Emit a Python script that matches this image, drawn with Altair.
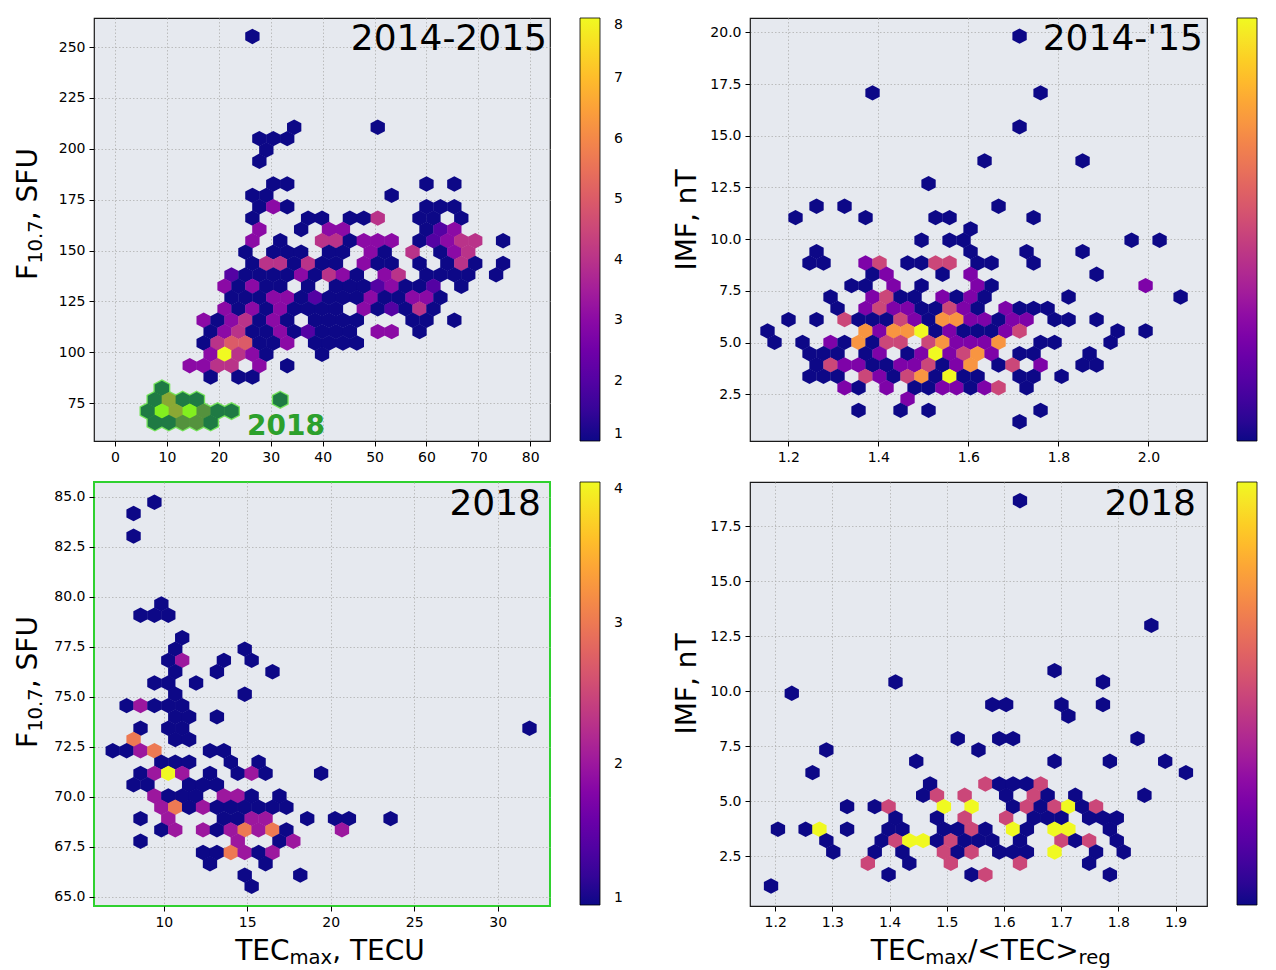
import altair as alt
import pandas as pd

FONT = "DejaVu Sans"

# ---------------- hexbin counts ----------------
# row index j -> "i:count ..." (i = column index of the hexbin lattice, halves on odd rows)
P1_ROWS = {
    28: "2:1",
    20: "5:1 11:1",
    19: "2.5:1 3.5:1 4.5:1",
    18: "3:1",
    17: "2.5:1",
    15: "3.5:1 4.5:1 14.5:1 16.5:1",
    14: "2:1 3:1 12:1",
    13: "2.5:1 3.5:3 4.5:1 14.5:1 15.5:1 16.5:1",
    12: "2:1 6:1 7:1 9:1 10:1 11:4 14:1 15:1 17:1",
    11: "2.5:3 5.5:1 7.5:3 8.5:3 14.5:1 15.5:2 16.5:3",
    10: "2:3 4:1 7:4 8:4 9:1 10:3 11:3 12:3 14:1 15:2 16:3 17:4 18:4 20:1",
    9: "1.5:1 3.5:1 4.5:1 5.5:1 7.5:1 8.5:1 10.5:3 11.5:1 13.5:4 15.5:1 16.5:3 17.5:4",
    8: "2:1 3:4 4:4 5:1 6:4 7:1 8:1 10:3 11:1 12:1 14:1 16:1 17:4 18:1 20:1",
    7: "0.5:2 1.5:1 2.5:1 3.5:1 4.5:1 5.5:3 6.5:1 7.5:4 8.5:3 9.5:1 11.5:3 12.5:4 14.5:1 15.5:1 16.5:1 17.5:1 19.5:1",
    6: "0:3 1:1 2:3 3:1 4:1 6:1 8:1 9:1 10:1 11:2 12:3 13:1 14:1 15:2 17:1",
    5: "0.5:1 1.5:1 2.5:1 3.5:3 4.5:3 5.5:1 6.5:2 7.5:1 8.5:1 9.5:1 10.5:3 11.5:1 12.5:1 13.5:3 14.5:3 15.5:1",
    4: "0:3 1:1 2:3 3:1 4:3 5:1 6:1 7:1 8:1 10:3 11:1 12:2 13:1 14:4 15:1",
    3: "-1.5:3 -0.5:1 0.5:3 1.5:4 2.5:1 3.5:3 4.5:1 6.5:1 7.5:1 8.5:1 9.5:1 13.5:1 14.5:1 16.5:1",
    2: "-1:1 0:3 1:4 2:1 3:1 4:3 5:1 6:2 7:1 8:1 9:1 11:3 12:3 14:1",
    1: "-1.5:1 -0.5:4 0.5:5 1.5:5 2.5:1 3.5:1 4.5:3 6.5:1 7.5:1 8.5:1 9.5:1",
    0: "-1:3 0:8 1:4 2:3 3:1 7:1",
    -1: "-2.5:3 -1.5:3 -0.5:4 0.5:4 2.5:3 4.5:1",
    -2: "-1:1 1:1 2:1",
}
P1_2018_ROWS = {
    -3: "-4.5:1",
    -4: "-5:1 -4:3 -3:1 -2:1 4:1",
    -5: "-5.5:1 -4.5:6 -3.5:3 -2.5:6 -1.5:2 -0.5:1 0.5:1",
    -6: "-5:1 -4:1 -3:2 -2:2 -1:1",
}
P2_ROWS = {
    26: "7:1",
    21: "-3.5:1 8.5:1",
    18: "7:1",
    15: "4.5:1 11.5:1",
    13: "0.5:1",
    11: "-7.5:1 -5.5:1 5.5:1",
    10: "-9:1 -4:1 1:1 2:1 8:1",
    9: "3.5:1",
    8: "0:1 2:1 3:1 15:1 17:1",
    7: "-7.5:1 3.5:1 7.5:1 11.5:1",
    6: "-8:1 -7:1 -4:2 -3:3 -1:1 0:1 1:3 2:3 4:1 5:1 8:1",
    5: "-3.5:1 -2.5:2 1.5:1 3.5:2 12.5:1",
    4: "-5:1 -4:1 -2:2 0:1 4:2 5:1 16:2",
    3: "-6.5:1 -3.5:2 -2.5:3 -1.5:1 -0.5:1 1.5:2 2.5:1 3.5:2 4.5:1 10.5:1 18.5:1",
    2: "-6:1 -4:2 -3:3 -2:2 -1:2 0:1 1:1 2:3 3:2 4:1 6:2 7:1 8:1 9:1",
    1: "-9.5:1 -7.5:1 -5.5:3 -4.5:1 -3.5:1 -2.5:1 -1.5:3 -0.5:2 0.5:1 1.5:4 2.5:4 3.5:2 4.5:2 5.5:1 6.5:2 7.5:2 9.5:1 10.5:1 12.5:1",
    0: "-11:1 -4:4 -3:2 -2:4 -1:4 0:5 1:1 2:2 3:1 4:1 5:1 6:2 7:3 14:1 16:1",
    -1: "-10.5:1 -8.5:1 -6.5:2 -5.5:1 -4.5:4 -3.5:1 -2.5:3 -1.5:3 0.5:3 1.5:4 2.5:2 3.5:2 4.5:2 5.5:4 8.5:1 9.5:1 13.5:1",
    -2: "-8:1 -7:1 -6:1 -4:1 -3:2 -1:1 0:2 1:5 2:2 3:3 4:4 5:2 7:1 8:1 12:1",
    -3: "-7.5:1 -6.5:3 -5.5:2 -4.5:2 -3.5:1 -2.5:1 -1.5:2 -0.5:2 0.5:3 1.5:1 2.5:2 3.5:4 5.5:1 6.5:3 8.5:2 11.5:1 12.5:1",
    -4: "-8:1 -7:1 -6:1 -4:3 -3:2 -2:1 -1:3 0:4 1:1 2:5 3:1 4:1 7:1 8:1 10:1",
    -5: "-5.5:2 -4.5:1 -2.5:2 -0.5:1 0.5:1 1.5:2 2.5:2 3.5:1 4.5:2 5.5:3 7.5:1",
    -6: "-1:2",
    -7: "-4.5:1 -1.5:1 0.5:1 8.5:1",
    -8: "7:1",
}
P3_ROWS = {
    24: "-1:1",
    23: "-2.5:1",
    21: "-2.5:1",
    15: "-0.5:1",
    14: "-2:1 -1:1 0:1",
    12: "1:1",
    11: "0.5:1 5.5:1",
    10: "0:1 1:2 4:1 6:1",
    9: "0.5:1 3.5:1 7.5:1",
    8: "-1:1 0:1 2:1",
    7: "0.5:1 5.5:1",
    6: "-3:1 -2:2 -1:1 0:1 1:1",
    5: "0.5:1 1.5:1 3.5:1",
    4: "-2:1 0:1 1:1 26:1",
    3: "-2.5:3 0.5:1 1.5:1",
    2: "-4:1 -3:1 -2:2 -1:3 3:1 4:1",
    1: "-0.5:1 0.5:1 1.5:1 4.5:1 6.5:1",
    0: "-2:1 -1:2 0:4 1:2 3:1 5:1 6:2 7:1 11:1",
    -1: "-2.5:1 -1.5:1 1.5:1 2.5:1 3.5:1",
    -2: "-1:2 0:1 1:1 2:1 4:2 5:2 6:1 8:1",
    -3: "-0.5:2 0.5:3 1.5:1 2.5:2 3.5:1 4.5:1 5.5:1 6.5:1 7.5:1 8.5:1",
    -4: "-2:1 0:2 4:1 5:1 6:2 7:2 10:1 12:1 13:1 16:1",
    -5: "-0.5:1 0.5:2 2.5:2 3.5:1 4.5:2 5.5:3 6.5:2 7.5:3 8.5:1 12.5:2",
    -6: "-2:1 5:2 8:1 9:2",
    -7: "2.5:1 3.5:1 4.5:3 5.5:2 6.5:1 7.5:2",
    -8: "3:1 7:1",
    -9: "5.5:1 9.5:1",
    -10: "6:1",
}
P4_ROWS = {
    29: "14.5:1",
    18: "24:1",
    14: "17:1",
    13: "5.5:1 20.5:1",
    12: "-2:1",
    11: "12.5:1 13.5:1 17.5:1 20.5:1",
    10: "18:1",
    8: "10:1 13:1 14:1 23:1",
    7: "0.5:1 11.5:1",
    6: "7:1 17:1 21:1 25:1",
    5: "-0.5:1 26.5:1",
    4: "8:1 12:2 13:1 14:1 15:1 16:2",
    3: "7.5:1 8.5:2 10.5:2 13.5:1 15.5:2 16.5:1 18.5:1 23.5:1",
    2: "2:1 4:1 5:2 9:3 11:3 14:1 15:2 16:1 17:2 18:3 19:1 20:2",
    1: "5.5:1 8.5:1 10.5:2 13.5:2 15.5:1 16.5:1 17.5:1 19.5:1 20.5:1 21.5:1",
    0: "-3:1 -1:1 0:3 2:1 5:1 6:1 9:1 10:1 11:2 12:1 14:3 15:1 17:3 18:3 21:1",
    -1: "0.5:1 4.5:1 5.5:2 6.5:3 7.5:3 8.5:1 9.5:2 10.5:1 11.5:1 12.5:1 14.5:1 17.5:2 18.5:1 19.5:2 21.5:1",
    -2: "1:1 4:1 6:1 9:2 10:1 11:2 13:1 14:1 15:1 17:3 20:1 22:1",
    -3: "3.5:2 6.5:1 9.5:2 14.5:2 19.5:1",
    -4: "5:1 11:1 12:2 21:1",
    -5: "-3.5:1",
}

# hexbin lattice: (x of bin column 0, column spacing, y of bin row 0, row spacing)
P1_GRID = (21.1, 2.683, 99.0, 5.58)
P2_GRID = (1.496, 0.0311, 5.565, 0.548)
P3_GRID = (10.27, 0.832, 71.17, 0.565)
P4_GRID = (1.2774, 0.02418, 3.736, 0.515)

# axes
P1_XDOM, P1_YDOM = [-4.05, 83.8], [56.4, 264.3]
P2_XDOM, P2_YDOM = [1.115, 2.130], [0.25, 20.69]
P3_XDOM, P3_YDOM = [5.82, 33.13], [64.54, 85.74]
P4_XDOM, P4_YDOM = [1.156, 1.955], [0.25, 19.52]
P1_XT, P1_YT = [0, 10, 20, 30, 40, 50, 60, 70, 80], [75, 100, 125, 150, 175, 200, 225, 250]
P2_XT, P2_YT = [1.2, 1.4, 1.6, 1.8, 2.0], [2.5, 5.0, 7.5, 10.0, 12.5, 15.0, 17.5, 20.0]
P3_XT, P3_YT = [10, 15, 20, 25, 30], [65.0, 67.5, 70.0, 72.5, 75.0, 77.5, 80.0, 82.5, 85.0]
P4_XT, P4_YT = [1.2, 1.3, 1.4, 1.5, 1.6, 1.7, 1.8, 1.9], [2.5, 5.0, 7.5, 10.0, 12.5, 15.0, 17.5]
CMAX = {"p1": 8, "p2": 5, "p3": 4, "p4": 3}
GREEN_DOMAIN = [1, 3, 6]
GREEN_RANGE = ["#1f7a44", "#8aa834", "#82ef1f"]

W_L, W_R, H = 456, 457, 423
BG = "#e6e9ef"
HEX = "M0,-1L0.93,-0.51L0.93,0.51L0,1L-0.93,0.51L-0.93,-0.51Z"
HEX_SIZE = (2 * 7.7) ** 2

CW = {' ': 0.318, ',': 0.318, '.': 0.318, '/': 0.337, '<': 0.838, '>': 0.838, '-': 0.361,
      "'": 0.275, 'F': 0.575, 'S': 0.635, 'U': 0.732, 'T': 0.611, 'E': 0.632, 'C': 0.698,
      'I': 0.295, 'M': 0.863, 'm': 0.974, 'a': 0.613, 'x': 0.592, 'r': 0.411, 'e': 0.615,
      'g': 0.635, 'n': 0.634}


def tw(s, size):
    return sum(CW.get(ch, 0.636) for ch in s) * size


def hexdf(rows, grid):
    x0, dx, y0, dy = grid
    recs = []
    for j, s in rows.items():
        for tok in s.split():
            i, c = tok.split(":")
            recs.append({"x": x0 + float(i) * dx, "y": y0 + j * dy, "c": int(c)})
    return pd.DataFrame(recs)


def txt(text, x, y, size, align="left", angle=0, weight="normal", color="black"):
    return alt.Chart(alt.Data(values=[{"k": 0}])).mark_text(
        text=text, fontSize=size, font=FONT, align=align, baseline="alphabetic",
        angle=angle, fontWeight=weight, color=color,
    ).encode(x=alt.value(x), y=alt.value(y))


MAIN, SUB, SHIFT, XSHIFT = 28, 19.6, 5, 4


def htitle(pieces, cx, by):
    total = sum(tw(t, s) for t, s, _ in pieces)
    x = cx - total / 2
    out = []
    for t, s, sh in pieces:
        out.append(txt(t, x, by + sh, s))
        x += tw(t, s)
    return out


def vtitle(pieces, bx, cy):
    total = sum(tw(t, s) for t, s, _ in pieces)
    y = cy + total / 2
    out = []
    for t, s, sh in pieces:
        out.append(txt(t, bx + sh, y, s, angle=270))
        y -= tw(t, s)
    return out


def enc_xy(xdom, ydom, xt, yt, fx, fy):
    x = alt.X("x:Q", scale=alt.Scale(domain=xdom, nice=False, zero=False),
              axis=alt.Axis(values=xt, format=fx, title=None))
    y = alt.Y("y:Q", scale=alt.Scale(domain=ydom, nice=False, zero=False),
              axis=alt.Axis(values=yt, format=fy, title=None))
    return x, y


def hex_layer(df, x, y, cmax, show_labels=True):
    sc = alt.Scale(scheme="plasma", domain=[1, cmax])
    extra = {} if show_labels else {"labelExpr": "''"}
    return alt.Chart(df).mark_point(
        filled=True, shape=HEX, size=HEX_SIZE, opacity=1, strokeWidth=0
    ).encode(
        x=x, y=y,
        color=alt.Color("c:Q", scale=sc, legend=alt.Legend(
            type="gradient", title=None, orient="right", offset=30, direction="vertical",
            gradientLength=H, gradientThickness=20, values=list(range(1, cmax + 1)),
            labelFont=FONT, labelFontSize=14, labelColor="black",
            labelOffset=14 if show_labels else 0,
            gradientStrokeColor="black", gradientStrokeWidth=0.8, padding=0, format="d",
            **extra)),
    )


def view(stroke="#1a1a1a", width=1.2):
    return alt.ViewBackground(fill=BG, stroke=stroke, strokeWidth=width)


XT_BASE = 478

# ---- panel 1
x1, y1 = enc_xy(P1_XDOM, P1_YDOM, P1_XT, P1_YT, "d", "d")
g18 = hexdf(P1_2018_ROWS, P1_GRID)
p1_layers = [
    hex_layer(hexdf(P1_ROWS, P1_GRID), x1, y1, CMAX["p1"]),
    alt.Chart(g18).mark_point(filled=False, shape=HEX, size=HEX_SIZE, opacity=1,
                              stroke="#74e35a", strokeWidth=2.6).encode(x=x1, y=y1),
    alt.Chart(g18).mark_point(filled=True, shape=HEX, size=HEX_SIZE, opacity=1,
                              strokeWidth=0).encode(
        x=x1, y=y1,
        fill=alt.Fill("c:Q", scale=alt.Scale(domain=GREEN_DOMAIN, range=GREEN_RANGE), legend=None)),
    txt("2014-2015", 453, 32, 36, align="right"),
    txt("2018", 153, 417, 28, weight="bold", color="#2ca02c"),
] + vtitle([("F", MAIN, 0), ("10.7", SUB, SHIFT), (", SFU", MAIN, 0)], -57, 196)
p1 = alt.layer(*p1_layers).resolve_scale(fill="independent").properties(
    width=W_L, height=H, view=view())

# ---- panel 2 (its colourbar labels fall off the right edge of the picture)
x2, y2 = enc_xy(P2_XDOM, P2_YDOM, P2_XT, P2_YT, ".1f", ".1f")
p2_layers = [
    hex_layer(hexdf(P2_ROWS, P2_GRID), x2, y2, CMAX["p2"], show_labels=False),
    txt("2014-'15", 453, 32, 36, align="right"),
] + vtitle([("IMF, nT", MAIN, 0)], -54, 202)
p2 = alt.layer(*p2_layers).properties(width=W_R, height=H, view=view())

# ---- panel 3
x3, y3 = enc_xy(P3_XDOM, P3_YDOM, P3_XT, P3_YT, "d", ".1f")
p3_layers = [
    hex_layer(hexdf(P3_ROWS, P3_GRID), x3, y3, CMAX["p3"]),
    txt("2018", 447, 33, 36, align="right"),
] + vtitle([("F", MAIN, 0), ("10.7", SUB, SHIFT), (", SFU", MAIN, 0)], -57, 200) \
  + htitle([("TEC", MAIN, 0), ("max", SUB, XSHIFT), (", TECU", MAIN, 0)], 236, XT_BASE)
p3 = alt.layer(*p3_layers).properties(width=W_L, height=H + 1, view=view("#2fd12f", 2))

# ---- panel 4 (its colourbar labels fall off the right edge of the picture)
x4, y4 = enc_xy(P4_XDOM, P4_YDOM, P4_XT, P4_YT, ".1f", ".1f")
p4_layers = [
    hex_layer(hexdf(P4_ROWS, P4_GRID), x4, y4, CMAX["p4"], show_labels=False),
    txt("2018", 446, 33, 36, align="right"),
] + vtitle([("IMF, nT", MAIN, 0)], -54, 202) \
  + htitle([("TEC", MAIN, 0), ("max", SUB, XSHIFT), ("/<TEC>", MAIN, 0), ("reg", SUB, XSHIFT)], 241, XT_BASE)
p4 = alt.layer(*p4_layers).properties(width=W_R, height=H + 1, view=view())

IND = dict(color="independent", fill="independent", x="independent", y="independent")
row1 = alt.hconcat(p1, p2, spacing=49).resolve_scale(**IND)
row2 = alt.hconcat(p3, p4, spacing=49).resolve_scale(**IND)
chart = alt.vconcat(row1, row2, spacing=16).resolve_scale(**IND).properties(
    padding={"left": 6, "top": 9, "right": 0, "bottom": 0},
    background="white",
).configure_view(
    fill=BG, stroke="#1a1a1a", strokeWidth=1.2
).configure_axis(
    labelFont=FONT, labelFontSize=14, labelColor="black", tickColor="black",
    tickSize=5, tickWidth=1, labelPadding=4, domain=False, grid=True,
    gridColor="#b0b0b0", gridDash=[1.5, 2], gridWidth=0.8,
)

chart.save("out.html", embed_options={"renderer": "svg", "actions": False})
